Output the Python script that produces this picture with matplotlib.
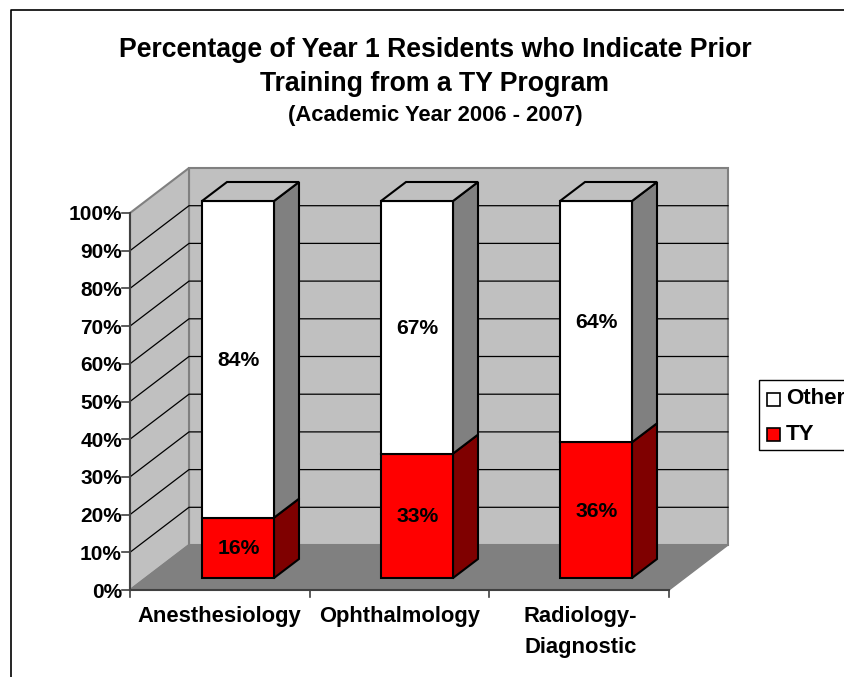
import matplotlib
matplotlib.use("Agg")
import matplotlib.pyplot as plt
from matplotlib.patches import Polygon, Rectangle

plt.rcParams["font.family"] = ["Liberation Sans", "DejaVu Sans"]

categories = ["Anesthesiology", "Ophthalmology", "Radiology-\nDiagnostic"]
ty_values = [16, 33, 36]
other_values = [84, 67, 64]
y_ticks = [0, 10, 20, 30, 40, 50, 60, 70, 80, 90, 100]

RED = "#FF0000"
DARK_RED = "#7F0000"
WALL = "#C0C0C0"
FLOOR = "#808080"

# the chart is a fake 3D box, so everything is placed in pixel space
fig = plt.figure(figsize=(8.45, 6.77), dpi=100)
ax = fig.add_axes([0, 0, 1, 1])
ax.set_xlim(0, 845)
ax.set_ylim(677, 0)
ax.axis("off")

left, right = 130, 669
y0, per_pct = 590, 3.77
depth_x, depth_y = 59, -45
bar_lefts = [202, 381, 560]
bar_w, bar_y0 = 72, 578
bar_dx, bar_dy = 25, -19


def ypos(v):
    return y0 - v * per_pct


# outer frame (left and top only, the rest is cropped)
ax.plot([11, 11, 845], [677, 10, 10], color="black", lw=1.2)

# walls and floor
top = ypos(100)
ax.add_patch(Polygon([(left + depth_x, y0 + depth_y), (right + depth_x, y0 + depth_y),
                      (right + depth_x, top + depth_y), (left + depth_x, top + depth_y)],
                     fc=WALL, ec=FLOOR, lw=1.5, zorder=1))
ax.add_patch(Polygon([(left, y0), (left + depth_x, y0 + depth_y),
                      (left + depth_x, top + depth_y), (left, top)],
                     fc=WALL, ec=FLOOR, lw=1.5, zorder=1))
ax.add_patch(Polygon([(left, y0), (right, y0), (right + depth_x, y0 + depth_y),
                      (left + depth_x, y0 + depth_y)],
                     fc=FLOOR, ec=FLOOR, lw=1, zorder=1))

# gridlines
for t in y_ticks[1:-1]:
    y = ypos(t)
    ax.plot([left, left + depth_x, right + depth_x], [y, y + depth_y, y + depth_y],
            color="black", lw=0.9, zorder=2)

# axes lines and ticks
ax.plot([left, left], [ypos(0), ypos(100)], color="#404040", lw=1.5, zorder=3)
ax.plot([left, right], [y0, y0], color="#404040", lw=1.5, zorder=3)
for t in y_ticks:
    y = ypos(t)
    ax.plot([left - 8, left], [y, y], color="#404040", lw=1.2, zorder=3)
    ax.text(left - 8, y + 2, f"{t}%", ha="right", va="center", fontsize=15,
            fontweight="bold")
for i in range(len(categories) + 1):
    x = left + i * (right - left) / len(categories)
    ax.plot([x, x], [y0, y0 + 7], color="#404040", lw=1.2, zorder=3)


# bars
def draw_segment(x, low, high, face, side, label):
    y_low = bar_y0 - low * per_pct
    y_high = bar_y0 - high * per_pct
    ax.add_patch(Polygon([(x + bar_w, y_low), (x + bar_w + bar_dx, y_low + bar_dy),
                          (x + bar_w + bar_dx, y_high + bar_dy), (x + bar_w, y_high)],
                         fc=side, ec="black", lw=1.5, zorder=4))
    ax.add_patch(Rectangle((x, y_high), bar_w, y_low - y_high, fc=face, ec="black",
                           lw=1.5, zorder=5))
    ax.text(x + bar_w / 2 + 0.5, (y_low + y_high) / 2 + 1, label, ha="center",
            va="center", fontsize=15.2, fontweight="bold", zorder=6)


for x, ty, other in zip(bar_lefts, ty_values, other_values):
    draw_segment(x, 0, ty, RED, DARK_RED, f"{ty}%")
    draw_segment(x, ty, ty + other, "white", FLOOR, f"{other}%")
    # top face of the bar
    y_top = bar_y0 - (ty + other) * per_pct
    ax.add_patch(Polygon([(x, y_top), (x + bar_dx, y_top + bar_dy),
                          (x + bar_w + bar_dx, y_top + bar_dy), (x + bar_w, y_top)],
                         fc=WALL, ec="black", lw=1.5, zorder=5))

# category labels
slot = (right - left) / len(categories)
for i, name in enumerate(categories):
    ax.text(left + slot * (i + 0.5) + i * 0.8 - 0.5, 606, name, ha="center", va="top",
            multialignment="center", fontsize=15.8, fontweight="bold", linespacing=1.6)

# title
ax.text(435, 50, "Percentage of Year 1 Residents who Indicate Prior", ha="center",
        va="center", fontsize=19.2, fontweight="bold")
ax.text(435, 84, "Training from a TY Program", ha="center", va="center", fontsize=19.2,
        fontweight="bold")
ax.text(435, 115, "(Academic Year 2006 - 2007)", ha="center", va="center", fontsize=15.8,
        fontweight="bold")

# legend
ax.add_patch(Rectangle((759, 380), 90, 70, fc="white", ec="black", lw=1, zorder=3))
ax.add_patch(Rectangle((767, 393), 13, 13, fc="white", ec="black", lw=1.2, zorder=4))
ax.add_patch(Rectangle((767, 428), 13, 13, fc=RED, ec="black", lw=1.2, zorder=4))
ax.text(786, 399, "Other", va="center", fontsize=16, fontweight="bold", zorder=4)
ax.text(786, 434, "TY", va="center", fontsize=16, fontweight="bold", zorder=4)

plt.savefig("out.png", dpi=100)
